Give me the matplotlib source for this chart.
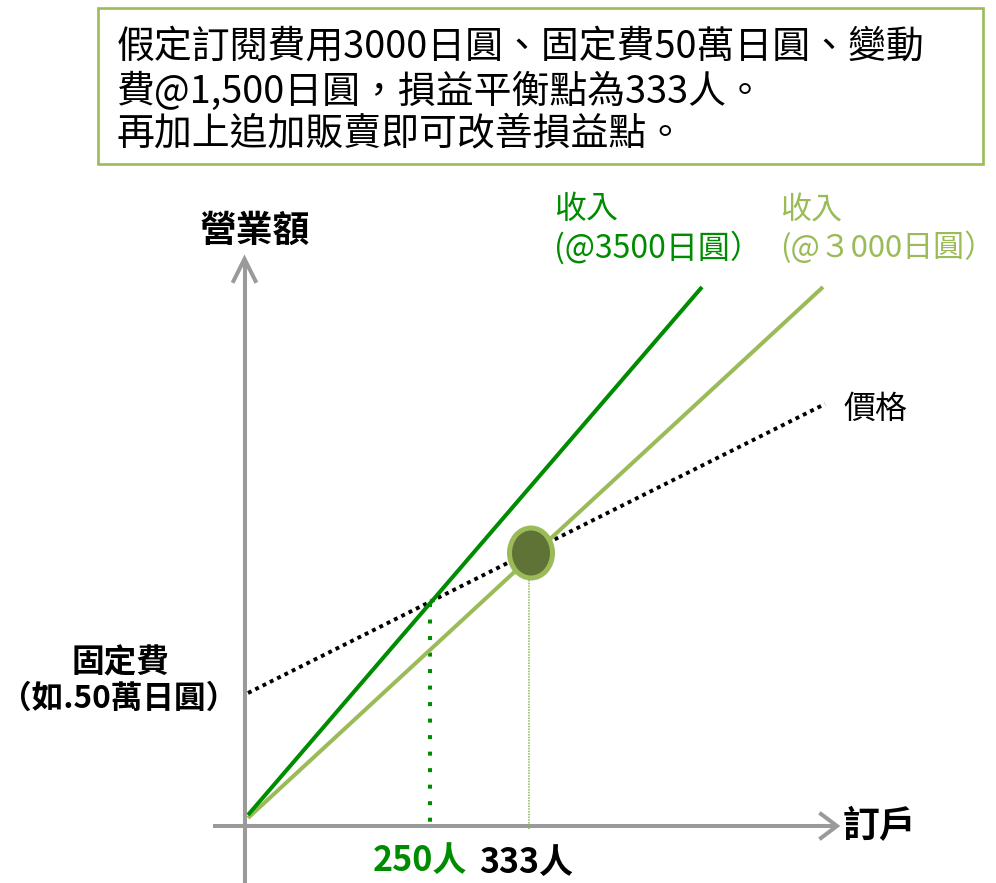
import matplotlib
matplotlib.use("Agg")
import matplotlib.pyplot as plt
from matplotlib.patches import Ellipse, Rectangle

plt.rcParams['font.family'] = ['Noto Sans CJK TC', 'DejaVu Sans']

# ---- data (schematic break-even chart, in the slide's chart units) ----
title_lines = ["假定訂閱費用3000日圓、固定費50萬日圓、變動",
               "費@1,500日圓，損益平衡點為333人。",
               "再加上追加販賣即可改善損益點。"]
y_axis_label = "營業額"
x_axis_label = "訂戶"

rev3500_x = [248, 702]
rev3500_y = [815, 287]
rev3000_x = [248, 823]
rev3000_y = [818, 287]
cost_x = [248, 825]
cost_y = [693, 404]

breakeven_labels = ["250人", "333人"]
breakeven_x = [430, 529]
breakeven_y = [603, 555]

rev3500_label = "收入\n(@3500日圓）"
rev3000_label = "收入\n(@３000日圓）"
cost_label = "價格"
fixed_label = ["固定費", "（如.50萬日圓）"]

# ---- colours ----
DARK_GREEN = '#008C00'
LIGHT_GREEN = '#9BBB59'
OLIVE = '#5F7336'
GRAY = '#9A9A9A'

fig = plt.figure(figsize=(9.96, 8.83), dpi=100)
ax = fig.add_axes([0, 0, 1, 1])
ax.set_xlim(0, 996)
ax.set_ylim(883, 0)
ax.axis('off')

# title box
ax.add_patch(Rectangle((98, 8), 885, 156, facecolor='white', edgecolor=LIGHT_GREEN, lw=1.9, zorder=1))
for ln, yy in zip(title_lines, [47, 92, 134]):
    ax.text(117, yy, ln, fontsize=27.3, color='black', ha='left', va='center', zorder=2)

# axes with arrows
ax.plot([244.5, 244.5], [883, 260], color=GRAY, lw=2.9, solid_capstyle='butt', zorder=2)
ax.plot([233.5, 244.5, 255.5], [281, 259, 281], color=GRAY, lw=2.9, solid_joinstyle='miter', zorder=2)
ax.plot([213, 835], [826, 826], color=GRAY, lw=2.9, solid_capstyle='butt', zorder=2)
ax.plot([821, 837, 821], [814, 826, 838], color=GRAY, lw=2.9, solid_joinstyle='miter', zorder=2)

# cost line (dotted)
ax.plot(cost_x, cost_y, color='black', lw=2.8, linestyle=(0, (1, 1.1)), dash_capstyle='butt', zorder=3)
# revenue lines
ax.plot(rev3000_x, rev3000_y, color=LIGHT_GREEN, lw=2.9, solid_capstyle='butt', zorder=4)
ax.plot(rev3500_x, rev3500_y, color=DARK_GREEN, lw=2.9, solid_capstyle='butt', zorder=5)

# break-even drop lines
ax.plot([breakeven_x[0], breakeven_x[0]], [breakeven_y[0], 826], color=DARK_GREEN, lw=2.9,
        linestyle=(0, (1, 3.1)), dash_capstyle='butt', zorder=3)
ax.plot([breakeven_x[1], breakeven_x[1]], [breakeven_y[1] + 25, 830], color='#8DB84A', lw=1.1,
        linestyle=(0, (1, 0.8)), zorder=3)

# break-even marker
ax.add_patch(Ellipse((breakeven_x[1] + 2, breakeven_y[1] - 2), 43, 50, facecolor=OLIVE,
                     edgecolor=LIGHT_GREEN, lw=3.6, zorder=6))

# labels
ax.text(255, 231, y_axis_label, fontsize=26.5, fontweight='bold', ha='center', va='center')
ax.text(843, 827, x_axis_label, fontsize=26.5, fontweight='bold', ha='left', va='center')
ax.text(373, 860, breakeven_labels[0], fontsize=24.5, fontweight='bold', color=DARK_GREEN, ha='left', va='center')
ax.text(479, 862, breakeven_labels[1], fontsize=24.5, fontweight='bold', color='black', ha='left', va='center')
ax.text(120, 663, fixed_label[0], fontsize=23.5, fontweight='bold', ha='center', va='center')
ax.text(119, 699, fixed_label[1], fontsize=22.8, fontweight='bold', ha='center', va='center')
ax.text(843, 409, cost_label, fontsize=23, ha='left', va='center')
ax.text(554, 229, rev3500_label, fontsize=23, color=DARK_GREEN, ha='left', va='center', linespacing=1.2)
ax.text(780, 229, rev3000_label, fontsize=22.3, color=LIGHT_GREEN, ha='left', va='center', linespacing=1.24)

fig.savefig('out.png', dpi=100)
